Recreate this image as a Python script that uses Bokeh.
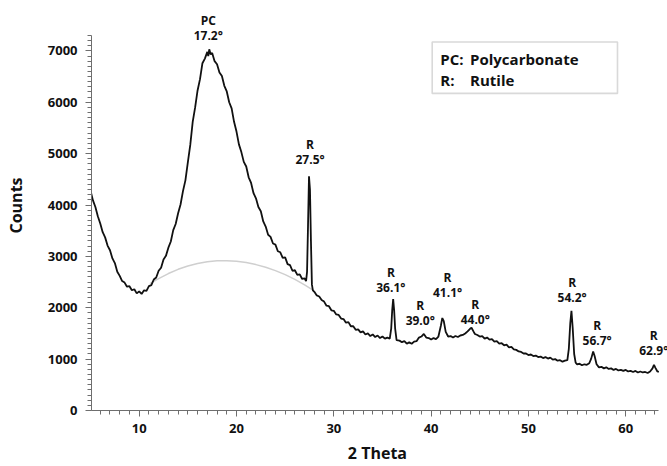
from bokeh.plotting import figure
from bokeh.models import (ColumnDataSource, LabelSet, Label, BoxAnnotation,
                          Range1d, SingleIntervalTicker)
from bokeh.core.properties import value
from bokeh.embed import file_html
from bokeh.resources import INLINE

# ---- measured XRD pattern (2 Theta, Counts) ----
two_theta = [
    5.00, 5.25, 5.50, 5.75, 6.00, 6.25, 6.50, 6.75, 7.00, 7.25, 7.50, 7.75,
    8.00, 8.25, 8.50, 8.75, 9.00, 9.25, 9.50, 9.75, 10.00, 10.25, 10.50, 10.75,
    11.00, 11.25, 11.50, 11.75, 12.00, 12.25, 12.50, 12.75, 13.00, 13.25, 13.50,
    13.75, 14.00, 14.25, 14.50, 14.75, 15.00, 15.25, 15.50, 15.75, 16.00, 16.25,
    16.50, 16.75, 17.00, 17.10, 17.20, 17.35, 17.50, 17.75, 18.00, 18.25, 18.50,
    18.75, 19.00, 19.25, 19.50, 19.75, 20.00, 20.25, 20.50, 20.75, 21.00, 21.25,
    21.50, 21.75, 22.00, 22.25, 22.50, 22.75, 23.00, 23.25, 23.50, 23.75, 24.00,
    24.25, 24.50, 24.75, 25.00, 25.25, 25.50, 25.75, 26.00, 26.25, 26.50, 26.75,
    27.00, 27.15, 27.25, 27.35, 27.45, 27.55, 27.65, 27.75, 27.85, 28.00, 28.25,
    28.50, 28.75, 29.00, 29.25, 29.50, 29.75, 30.00, 30.25, 30.50, 30.75, 31.00,
    31.25, 31.50, 31.75, 32.00, 32.25, 32.50, 32.75, 33.00, 33.25, 33.50, 33.75,
    34.00, 34.25, 34.50, 34.75, 35.00, 35.25, 35.50, 35.75, 35.90, 36.00, 36.10,
    36.20, 36.30, 36.45, 36.75, 37.00, 37.25, 37.50, 37.75, 38.00, 38.25, 38.50,
    38.75, 39.00, 39.25, 39.50, 39.75, 40.00, 40.25, 40.50, 40.75, 41.00, 41.15,
    41.30, 41.50, 41.75, 42.00, 42.25, 42.50, 42.75, 43.00, 43.25, 43.50, 43.75,
    44.00, 44.15, 44.35, 44.50, 44.75, 45.00, 45.25, 45.50, 45.75, 46.00, 46.25,
    46.50, 46.75, 47.00, 47.25, 47.50, 47.75, 48.00, 48.25, 48.50, 48.75, 49.00,
    49.25, 49.50, 49.75, 50.00, 50.25, 50.50, 50.75, 51.00, 51.25, 51.50, 51.75,
    52.00, 52.25, 52.50, 52.75, 53.00, 53.25, 53.50, 53.75, 54.00, 54.15, 54.30,
    54.42, 54.55, 54.70, 54.85, 55.00, 55.25, 55.50, 55.75, 56.00, 56.25, 56.45,
    56.65, 56.80, 57.00, 57.25, 57.50, 57.75, 58.00, 58.25, 58.50, 58.75, 59.00,
    59.25, 59.50, 59.75, 60.00, 60.25, 60.50, 60.75, 61.00, 61.25, 61.50, 61.75,
    62.00, 62.25, 62.50, 62.75, 62.90, 63.05, 63.25, 63.40,
]
counts = [
    4280, 4090, 3960, 3780, 3640, 3470, 3370, 3210, 3120, 2960, 2870, 2700,
    2620, 2520, 2490, 2410, 2420, 2340, 2360, 2280, 2320, 2270, 2340, 2330,
    2420, 2440, 2550, 2590, 2720, 2780, 2940, 3010, 3170, 3290, 3510,
    3630, 3840, 4010, 4270, 4480, 4830, 5170, 5620, 5900, 6230, 6450,
    6760, 6850, 6980, 6900, 7030, 6930, 6960, 6800, 6740, 6580, 6510,
    6320, 6210, 6000, 5880, 5620, 5430, 5180, 5030, 4840, 4750, 4540,
    4430, 4230, 4130, 3960, 3880, 3680, 3580, 3420, 3380, 3250, 3230,
    3100, 3080, 2970, 2980, 2850, 2830, 2720, 2730, 2640, 2650, 2560,
    2570, 2520, 2700, 3600, 4560, 4300, 3300, 2450, 2340, 2310, 2240,
    2220, 2150, 2120, 2040, 2030, 1950, 1940, 1870, 1860, 1790, 1780,
    1710, 1720, 1640, 1640, 1570, 1580, 1520, 1540, 1480, 1500, 1450,
    1480, 1430, 1460, 1410, 1440, 1400, 1420, 1400, 1600, 1950, 2170,
    1950, 1600, 1370, 1360, 1330, 1350, 1300, 1330, 1300, 1340, 1350,
    1420, 1440, 1490, 1420, 1410, 1380, 1410, 1390, 1440, 1650, 1800,
    1740, 1530, 1440, 1450, 1420, 1450, 1430, 1460, 1470, 1500, 1540,
    1590, 1610, 1540, 1490, 1470, 1440, 1450, 1400, 1420, 1380, 1390,
    1340, 1350, 1300, 1310, 1270, 1280, 1230, 1240, 1190, 1180, 1150,
    1140, 1110, 1110, 1080, 1090, 1060, 1070, 1040, 1050, 1020, 1040,
    1010, 1030, 990, 1000, 970, 980, 950, 970, 980, 1200, 1700,
    1940, 1600, 1100, 930, 900, 910, 880, 900, 890, 920, 1010,
    1150, 1060, 900, 840, 850, 820, 840, 810, 820, 790, 810,
    780, 790, 770, 790, 760, 770, 750, 770, 740, 760, 740,
    750, 730, 760, 820, 890, 830, 760, 750,
]

# ---- amorphous polycarbonate background (grey arc) ----
amorph_theta = [11.1, 12.0, 13.0, 14.0, 15.0, 16.0, 17.0, 18.0, 18.6, 19.0,
                20.0, 21.0, 22.0, 23.0, 24.0, 25.0, 26.0, 27.0, 27.9]
amorph_counts = [2468, 2568, 2666, 2748, 2813, 2863, 2897, 2914, 2917, 2914,
                 2904, 2879, 2840, 2788, 2723, 2644, 2552, 2446, 2340]

# ---- peak annotations ----
peak_names = ["PC", "R", "R", "R", "R", "R", "R", "R", "R"]
peak_angles = ["17.2°", "27.5°", "36.1°", "39.0°", "41.1°", "44.0°",
               "54.2°", "56.7°", "62.9°"]
label_theta = [17.1, 27.56, 35.86, 38.88, 41.69, 44.54, 54.49, 57.06, 62.88]
label_counts = [7294, 4885, 2390, 1750, 2294, 1763, 2192, 1365, 1173]

# ---- legend entries ----
legend_keys = ["PC:", "R:"]
legend_names = ["Polycarbonate", "Rutile"]

# axis extents (what the axes show)
x_axis_span = (5.1, 63.4)
y_axis_span = (0, 7300)

FONT = "Open Sans"
AXIS_GREY = "#6e6e6e"
INK = "#111111"

# the frame fills the canvas top/right so labels above/right of the axes show
p = figure(width=667, height=466, output_backend="svg", toolbar_location=None,
           x_range=Range1d(5.1, 64.29), y_range=Range1d(0, 7981),
           min_border_left=91, min_border_right=0, min_border_top=0,
           min_border_bottom=51)
p.outline_line_color = None
p.xgrid.visible = False
p.ygrid.visible = False
p.background_fill_color = "white"
p.border_fill_color = "white"

p.line(amorph_theta, amorph_counts, line_color="#cfcfcf", line_width=1.5)
p.line(two_theta, counts, line_color=INK, line_width=1.8)

p.xaxis.ticker = SingleIntervalTicker(interval=10, num_minor_ticks=10)
p.yaxis.ticker = SingleIntervalTicker(interval=1000, num_minor_ticks=10)
p.xaxis.bounds = x_axis_span
p.yaxis.bounds = y_axis_span
for ax in (p.xaxis, p.yaxis):
    ax.axis_line_color = AXIS_GREY
    ax.major_tick_line_color = AXIS_GREY
    ax.minor_tick_line_color = AXIS_GREY
    ax.major_tick_in = 0
    ax.major_tick_out = 6
    ax.minor_tick_in = 0
    ax.minor_tick_out = 4
    ax.major_label_text_font = FONT
    ax.major_label_text_font_style = "bold"
    ax.major_label_text_font_size = "13px"
    ax.major_label_text_color = INK
    ax.axis_label_text_font = FONT
    ax.axis_label_text_font_style = "bold"
    ax.axis_label_text_font_size = "16px"
    ax.axis_label_text_color = INK
p.xaxis.axis_label = "2  Theta"
p.yaxis.axis_label = "Counts"
p.xaxis.major_label_standoff = 7
p.yaxis.major_label_standoff = 8
p.xaxis.axis_label_standoff = 6
p.yaxis.axis_label_standoff = 18

src = ColumnDataSource(dict(x=label_theta, y=label_counts,
                            name=peak_names, angle=peak_angles))
for col, off in (("angle", 0), ("name", 15)):
    p.add_layout(LabelSet(x="x", y="y", text=col, source=src, y_offset=off,
                          text_align="center", text_baseline="middle",
                          text_font=value(FONT), text_font_style="bold",
                          text_font_size="12px", text_color=INK))

p.add_layout(BoxAnnotation(left=40.11, right=59.15, bottom=6173, top=7173,
                           fill_color="white", fill_alpha=1.0,
                           line_color="#808080", line_width=1.6))
leg_y = [6840, 6429]
for k, n, yy in zip(legend_keys, legend_names, leg_y):
    p.add_layout(Label(x=40.94, y=yy, text=k, text_align="left",
                       text_baseline="middle", text_font=FONT,
                       text_font_style="bold", text_font_size="15px",
                       text_color=INK))
    p.add_layout(Label(x=44.0, y=yy, text=n, text_align="left",
                       text_baseline="middle", text_font=FONT,
                       text_font_style="bold", text_font_size="15px",
                       text_color=INK))

open("out.html", "w").write(file_html(p, INLINE))
